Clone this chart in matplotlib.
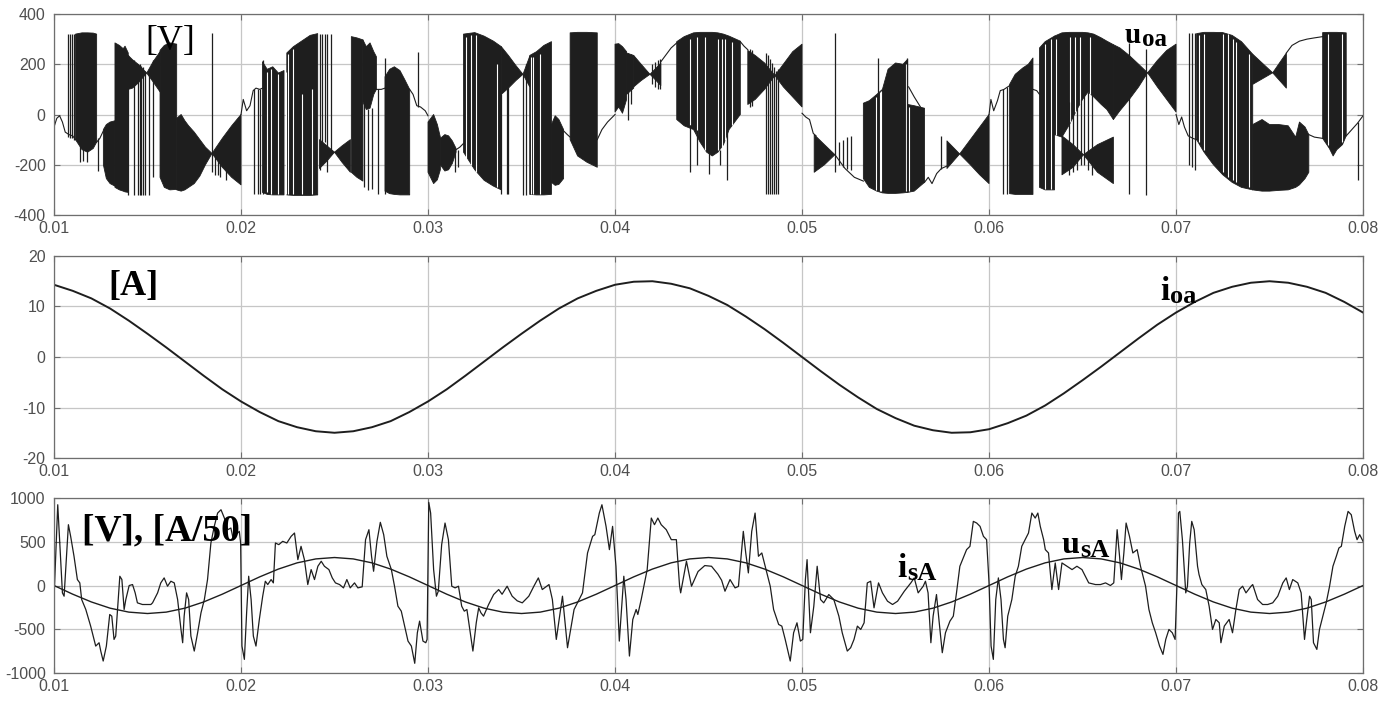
import numpy as np
import matplotlib
matplotlib.use("Agg")
import matplotlib.pyplot as plt

nan = np.nan
plt.rcParams['axes.unicode_minus'] = False

# ---------------- u_oa : switched output voltage (t in ms, V) ----------------
# dark switching bands, one segment per row, NaN separates segments
band_t = [11.15, 11.5, 11.8, 12.1, 12.28, nan,
          12.64, 12.8, 13.0, 13.26, nan,
          13.26, 13.5, 13.7, 13.8, 13.97, nan,
          13.97, 14.2, 14.5, 14.96, nan,
          14.96, 15.3, 15.67, nan,
          15.67, 15.9, 16.2, 16.56, nan,
          16.56, 16.8, 17.0, 17.2, 17.5, 17.8, 18.1, 18.45, nan,
          18.45, 19.0, 19.5, 20.0, nan,
          21.15, 21.4, 21.7, 22.0, 22.3, nan,
          22.45, 22.8, 23.3, 23.7, 24.1, nan,
          24.2, 24.6, 25.0, nan,
          25.0, 25.4, 25.85, nan,
          25.9, 26.2, 26.52, nan,
          26.52, 26.7, 26.9, 27.1, 27.24, nan,
          27.7, 27.95, 28.2, 28.5, 28.75, 29.02, nan,
          30.0, 30.3, 30.5, 30.66, nan,
          30.66, 30.9, 31.1, 31.3, 31.5, nan,
          31.9, 32.5, 33.0, 33.5, 33.92, nan,
          33.92, 34.3, 34.7, 35.08, nan,
          35.08, 35.44, nan,
          35.44, 35.8, 36.2, 36.6, nan,
          36.6, 36.8, 37.0, 37.25, nan,
          37.6, 38.0, 38.5, 39.05, nan,
          40.0, 40.2, 40.4, 40.62, nan,
          40.62, 41.0, nan,
          41.0, 41.4, 41.87, nan,
          41.87, 42.2, 42.45, nan,
          43.3, 43.7, 44.2, 44.55, 44.9, 45.2, 45.5, 45.8, 46.1, 46.4, 46.7, nan,
          47.1, 47.5, 48.0, 48.55, nan,
          48.55, 49.0, 49.5, 50.0, nan,
          50.65, 51.2, 51.76, nan,
          53.28, 53.6, 54.0, 54.3, 54.6, 55.0, 55.4, 55.65, nan,
          55.65, 56.0, 56.55, nan,
          57.75, 58.43, nan,
          58.43, 59.0, 59.5, 60.0, nan,
          61.1, 61.4, 61.8, 62.1, 62.35, nan,
          62.7, 63.0, 63.5, nan,
          63.5, 63.9, 64.3, 64.7, 65.0, 65.3, 65.6, 66.0, 66.3, 66.65, nan,
          63.9, 64.5, 65.05, nan,
          65.05, 65.8, 66.65, nan,
          66.65, 67.0, 67.5, 68.0, 68.48, nan,
          68.48, 69.0, 69.5, 70.0, nan,
          71.1, 71.5, 72.0, 72.5, 73.0, 73.5, 74.1, nan,
          74.1, 75.17, nan,
          75.17, 75.9, nan,
          74.1, 74.6, 75.0, 75.5, 76.0, 76.4, 76.6, 76.9, 77.1, nan,
          77.84, 78.2, 78.4, 78.6, 78.9, 79.1]
band_hi = [320, 325, 325, 324, 320, nan,
           -60, -40, -30, -25, nan,
           285, 275, 262, 272, 245, nan,
           235, 218, 200, 165, nan,
           165, 210, 250, nan,
           255, 275, 285, 280, nan,
           -15, 0, -25, -45, -70, -100, -130, -155, nan,
           -155, -95, -45, 0, nan,
           210, 180, 190, 165, 175, nan,
           245, 270, 295, 315, 322, nan,
           -100, -125, -150, nan,
           -150, -125, -100, nan,
           310, 305, 297, nan,
           297, 270, 285, 250, 230, nan,
           150, 180, 190, 175, 140, 100, nan,
           -30, 0, -40, -90, nan,
           -95, -80, -85, -105, -135, nan,
           320, 326, 312, 292, 270, nan,
           270, 235, 195, 160, nan,
           160, 232, nan,
           235, 250, 275, 290, nan,
           -40, -5, -20, -60, nan,
           325, 327, 327, 325, nan,
           280, 282, 270, 250, nan,
           245, 235, nan,
           235, 200, 160, nan,
           160, 185, 205, nan,
           290, 310, 325, 327, 327, 327, 325, 320, 312, 302, 292, nan,
           255, 235, 205, 155, nan,
           155, 200, 250, 280, nan,
           -80, -120, -160, nan,
           45, 55, 80, 100, 180, 205, 200, 220, nan,
           40, 35, 25, nan,
           -105, -157, nan,
           -157, -100, -50, 0, nan,
           120, 160, 185, 200, 225, nan,
           265, 290, 312, nan,
           312, 325, 327, 327, 327, 325, 320, 305, 292, 278, nan,
           -85, -120, -160, nan,
           -160, -120, -90, nan,
           278, 265, 235, 200, 166, nan,
           166, 215, 255, 280, nan,
           322, 327, 327, 326, 315, 290, 240, nan,
           240, 166, nan,
           166, 245, nan,
           -40, -20, -40, -40, -45, -90, -30, -50, -80, nan,
           326, 327, 327, 327, 326, 325]
band_lo = [-100, -140, -150, -135, -110, nan,
           -200, -255, -275, -285, nan,
           -290, -300, -305, -308, -310, nan,
           100, 105, 125, 165, nan,
           165, 130, 90, nan,
           -250, -290, -300, -298, nan,
           -300, -305, -300, -290, -275, -245, -200, -155, nan,
           -155, -210, -250, -280, nan,
           -310, -318, -320, -320, -320, nan,
           -320, -322, -322, -322, -320, nan,
           -215, -185, -150, nan,
           -150, -190, -230, nan,
           -230, -250, -265, nan,
           50, 20, 25, 80, 100, nan,
           -305, -315, -318, -320, -320, -320, nan,
           -230, -275, -260, -220, nan,
           -200, -225, -220, -195, -150, nan,
           -150, -220, -262, -285, -300, nan,
           80, 105, 135, 160, nan,
           160, 110, nan,
           -318, -320, -320, -318, nan,
           -270, -282, -278, -255, nan,
           -100, -165, -190, -210, nan,
           10, 30, 5, 60, nan,
           80, 105, nan,
           110, 135, 160, nan,
           160, 135, 115, nan,
           -20, -45, -60, -110, -150, -165, -150, -120, -60, -30, 0, nan,
           40, 60, 100, 155, nan,
           155, 110, 70, 30, nan,
           -230, -200, -160, nan,
           -255, -290, -305, -312, -314, -314, -312, -310, nan,
           -310, -305, -270, nan,
           -215, -157, nan,
           -157, -200, -240, -275, nan,
           -315, -318, -318, -318, -318, nan,
           -290, -300, -300, nan,
           -80, -90, -40, 20, 60, 90, 70, 40, 20, -20, nan,
           -240, -210, -160, nan,
           -160, -230, -275, nan,
           -20, 15, 60, 110, 166, nan,
           166, 110, 60, 10, nan,
           -100, -150, -200, -240, -270, -290, -300, nan,
           120, 166, nan,
           166, 105, nan,
           -300, -305, -305, -302, -300, -290, -280, -255, -230, nan,
           -95, -135, -165, -140, -120, -85]

# thin trace between the switching bands
line_t = [10.0, 10.15, 10.3, 10.45, 10.6, 10.8, 11.0, 11.15, nan,
          12.28, 12.45, 12.64, nan,
          20.0, 20.12, 20.3, 20.48, 20.65, 20.8, 21.0, 21.15, nan,
          27.24, 27.5, 27.7, nan,
          29.02, 29.2, 29.4, 29.6, 29.85, 30.0, nan,
          31.5, 31.7, 31.9, nan,
          37.25, 37.45, 37.6, nan,
          39.05, 39.3, 39.6, 39.8, 40.0, nan,
          42.45, 42.75, 43.0, 43.3, nan,
          46.7, 46.9, 47.1, nan,
          50.0, 50.2, 50.4, 50.6, 50.75, nan,
          51.76, 52.3, 52.8, 53.28, nan,
          55.7, 56.0, 56.5, nan,
          56.55, 56.75, 56.95, 57.2, 57.45, 57.75, nan,
          60.0, 60.1, 60.25, 60.45, 60.6, 60.8, 61.1, nan,
          62.35, 62.55, 62.7, nan,
          70.0, 70.15, 70.3, 70.45, 70.65, 70.9, 71.1, nan,
          75.9, 76.2, 76.6, 77.0, 77.4, 77.84, nan,
          77.1, 77.4, 77.84, nan,
          79.1, 79.4, 79.7, 80.0]
line_v = [-50, -15, -5, -30, -70, -80, -85, -100, nan,
          -110, -95, -65, nan,
          0, 60, 15, 35, 95, 105, 100, 105, nan,
          100, 100, 105, nan,
          100, 80, 35, 30, 15, -5, nan,
          -140, -130, -115, nan,
          -65, -80, -90, nan,
          -100, -60, -30, -15, 0, nan,
          210, 240, 265, 285, nan,
          290, 272, 258, nan,
          5, -10, -20, -75, -85, nan,
          -160, -215, -250, -265, nan,
          110, 70, 10, nan,
          -270, -250, -275, -235, -215, -205, nan,
          0, 60, 15, 55, 95, 100, 115, nan,
          100, 95, 80, nan,
          0, -40, -10, -50, -85, -95, -100, nan,
          245, 275, 292, 300, 305, 310, nan,
          -80, -90, -95, nan,
          -85, -60, -35, -5]

# isolated switching spikes
spike_t = [10.73, 10.85, 10.98, 11.07, 11.4, 11.55, 11.75, 12.37,
           13.97, 14.3, 14.5, 14.58, 14.65, 14.75, 14.85, 15.1, 15.3,
           18.43, 18.6, 18.75, 18.9, 19.2, 20.7, 20.9, 21.0, 21.15,
           24.2, 24.35, 24.5, 24.62, 24.8,
           26.6, 26.8, 27.0, 27.33, 27.68, 29.45, 31.45, 31.6,
           33.92, 34.2, 34.3, 35.1, 35.25,
           40.7, 40.85, 42.0, 42.15, 42.3, 42.4,
           44.0, 44.4, 45.0, 45.6, 46.0, 47.2, 47.3,
           48.1, 48.2, 48.3, 48.4, 48.5, 48.6, 48.7,
           51.76, 52.0, 52.2, 52.4, 52.6, 54.06, 55.6, 57.45, 60.75, 60.95,
           64.3, 64.5, 64.7, 64.9, 65.1, 65.3, 65.5,
           67.47, 68.4, 70.7, 70.85, 71.0, 79.75]
spike_lo = [-90, -95, -95, -100, -190, -185, -190, -225,
            -320, -320, -320, -320, -320, -320, -320, -320, -250,
            -230, -240, -240, -250, -260, -315, -315, -315, -318,
            -220, -200, -110, -230, -150,
            -290, -300, -295, -315, -315, 30, -230, -210,
            -315, -315, -315, -320, -320,
            -20, 40, 120, 110, 100, 100,
            -230, -200, -235, -200, -260, 30, 35,
            -315, -315, -315, -315, -315, -315, -315,
            -229, -200, -210, -215, -220, -300, -300, -215, -315, -315,
            -240, -230, -220, -200, -200, -220, -240,
            -315, -320, -200, -210, -220, -260]
spike_hi = [320, 320, 320, 320, -100, -110, -120, -95,
            235, 215, 200, 200, 195, 190, 175, 180, 215,
            326, -160, -140, -120, -90, 100, 100, 100, 215,
            322, 322, 322, 322, 322,
            50, 20, 25, 100, 225, 250, -140, -140,
            80, 110, 110, 160, 200,
            245, 240, 200, 210, 215, 220,
            -40, -60, -150, -140, -60, 260, 255,
            245, 235, 220, 205, 190, 175, 180,
            326, -110, -100, -90, -85, 225, 225, -84, 100, 110,
            50, 30, 40, 60, 80, 90, 80,
            285, 260, 324, 324, 324, -30]

# short pauses in switching (white streaks inside the dark bands)
gap_t = [21.37, 21.59, 22.0, 22.38, 22.53, 22.8, 23.24, 23.78,
         32.05, 32.3, 32.58, 33.7, 35.53, 35.61, 35.97,
         44.0, 44.37, 44.81, 45.53, 45.7, 45.88, 46.24,
         53.97, 54.15, 54.24, 55.58, 55.72,
         62.98, 63.33, 63.6, 64.31, 64.58, 64.85, 65.38,
         71.25, 71.5, 72.5, 72.76, 73.03, 73.2, 73.9, 78.1, 78.9]
gap_lo = [-310, -315, -318, -318, -318, -318, -318, -318,
          -180, -200, -230, -290, -315, -315, -315,
          -40, -80, -140, -140, -130, -100, -40,
          -300, -305, -305, -305, -305,
          -295, -295, -80, -30, 10, 40, 80,
          -110, -140, -230, -250, -260, -270, -290, -120, -110]
gap_hi = [170, 180, 160, 170, 240, 260, 80, 100,
          310, 315, 315, 200, 230, 230, 240,
          300, 310, 310, 300, 300, 300, 290,
          70, 90, 95, 200, 30,
          280, 300, 300, 310, 310, 310, 310,
          315, 320, 320, 320, 300, 290, 240, 320, 320]

# ---------------- i_oa : output current (t in ms, A) ----------------
ioa_t = list(range(10, 81))
ioa_v = [14.3, 13.1, 11.6, 9.6, 7.2, 4.6, 1.9, -0.9, -3.7, -6.4,
         -8.8, -10.9, -12.7, -13.9, -14.7, -15.0, -14.7, -13.9, -12.7, -10.9,
         -8.8, -6.4, -3.7, -0.9, 1.9, 4.6, 7.2, 9.6, 11.6, 13.1,
         14.3, 14.9, 15.0, 14.5, 13.6, 12.1, 10.3, 8.0, 5.5, 2.8,
         0.0, -2.8, -5.5, -8.0, -10.3, -12.1, -13.6, -14.5, -15.0, -14.9,
         -14.3, -13.1, -11.6, -9.6, -7.2, -4.6, -1.9, 0.9, 3.7, 6.4,
         8.8, 10.9, 12.7, 13.9, 14.7, 15.0, 14.7, 13.9, 12.7, 10.9, 8.8]

# ---------------- u_sA : supply voltage (t in ms, V) ----------------
usa_t = list(range(10, 81))
usa_v = [0, -99, -188, -259, -304, -320, -304, -259, -188, -99,
         0, 99, 188, 259, 304, 320, 304, 259, 188, 99,
         0, -99, -188, -259, -304, -320, -304, -259, -188, -99,
         0, 99, 188, 259, 304, 320, 304, 259, 188, 99,
         0, -99, -188, -259, -304, -320, -304, -259, -188, -99,
         0, 99, 188, 259, 304, 320, 304, 259, 188, 99,
         0, -99, -188, -259, -304, -320, -304, -259, -188, -99, 0]

# ---------------- i_sA : supply current, A/50 scale (t in ms) ----------------
isa_t = [10.0, 10.2, 10.45, 10.54, 10.77, 10.89, 11.07, 11.25, 11.38, 11.48,
         11.7, 11.96, 12.23, 12.41, 12.5, 12.63, 12.8, 12.98, 13.09, 13.21,
         13.3, 13.52, 13.63, 13.75, 13.84, 14.02, 14.2, 14.34, 14.46, 14.73,
         15.18, 15.27, 15.54, 15.71, 15.89, 16.07, 16.25, 16.43, 16.61, 16.79,
         16.88, 16.96, 17.09, 17.2, 17.32, 17.5, 17.68, 17.86, 18.04, 18.21,
         18.39, 18.57, 18.75, 18.93, 19.11, 19.29, 19.46, 19.59, 19.73, 19.91,
         19.98, 20.05, 20.18, 20.3, 20.41, 20.54, 20.66, 20.8, 20.98, 21.16,
         21.3, 21.43, 21.61, 21.73, 21.84, 22.02, 22.23, 22.45, 22.68, 22.86,
         23.04, 23.21, 23.39, 23.57, 23.75, 23.93, 24.11, 24.29, 24.46, 24.7,
         24.88, 25.05, 25.27, 25.48, 25.66, 25.84, 26.07, 26.25, 26.48, 26.66,
         26.84, 26.98, 27.09, 27.27, 27.45, 27.63, 27.8, 28.04, 28.21, 28.39,
         28.57, 28.75, 28.93, 29.11, 29.29, 29.43, 29.55, 29.73, 29.88, 29.95,
         30.04, 30.14, 30.3, 30.45, 30.55, 30.73, 30.91, 31.09, 31.27, 31.45,
         31.63, 31.8, 31.94, 32.08, 32.4, 32.58, 32.71, 32.83, 32.97, 33.24,
         33.51, 33.78, 33.96, 34.23, 34.5, 34.77, 35.04, 35.39, 35.66, 35.9,
         36.11, 36.47, 36.65, 36.86, 37.19, 37.46, 37.81, 37.99, 38.26, 38.53,
         38.8, 38.92, 39.16, 39.3, 39.52, 39.7, 39.87, 40.05, 40.23, 40.36,
         40.47, 40.59, 40.77, 40.95, 41.13, 41.22, 41.4, 41.58, 41.72, 41.94,
         42.11, 42.29, 42.47, 42.74, 43.01, 43.28, 43.45, 43.51, 43.82, 44.09,
         44.44, 44.8, 45.16, 45.5, 45.7, 45.88, 46.15, 46.42, 46.6, 46.86,
         46.99, 47.13, 47.31, 47.49, 47.67, 47.85, 48.03, 48.3, 48.48, 48.75,
         48.92, 49.1, 49.37, 49.55, 49.73, 49.91, 50.04, 50.18, 50.27, 50.45,
         50.63, 50.81, 50.99, 51.16, 51.43, 51.7, 51.97, 52.15, 52.42, 52.6,
         52.78, 52.96, 53.14, 53.32, 53.49, 53.67, 53.85, 54.09, 54.3, 54.57,
         54.84, 55.11, 55.47, 55.82, 56.0, 56.21, 56.48, 56.6, 56.74, 56.89,
         57.01, 57.19, 57.32, 57.5, 57.67, 57.91, 58.09, 58.26, 58.44, 58.62,
         58.8, 58.98, 59.16, 59.34, 59.52, 59.7, 59.87, 60.0, 60.11, 60.23,
         60.36, 60.5, 60.64, 60.77, 60.86, 61.0, 61.22, 61.4, 61.57, 61.75,
         61.93, 62.11, 62.29, 62.47, 62.61, 62.74, 62.92, 63.01, 63.18, 63.36,
         63.54, 63.72, 63.9, 64.17, 64.44, 64.7, 64.97, 65.33, 65.69, 65.96,
         66.23, 66.49, 66.67, 66.85, 66.98, 67.08, 67.21, 67.33, 67.51, 67.69,
         67.92, 68.1, 68.37, 68.55, 68.73, 68.91, 69.12, 69.3, 69.45, 69.62,
         69.8, 69.95, 70.04, 70.13, 70.2, 70.34, 70.52, 70.61, 70.73, 70.84,
         70.97, 71.15, 71.23, 71.38, 71.59, 71.77, 71.95, 72.13, 72.31, 72.4,
         72.58, 72.84, 73.02, 73.2, 73.38, 73.56, 73.74, 74.01, 74.1, 74.36,
         74.63, 74.9, 75.17, 75.44, 75.71, 75.89, 76.06, 76.24, 76.51, 76.69,
         76.87, 76.99, 77.14, 77.23, 77.35, 77.53, 77.67, 77.85, 78.03, 78.21,
         78.39, 78.57, 78.71, 78.84, 79.02, 79.2, 79.37, 79.55, 79.68, 79.82,
         80.0]
isa_v = [-150, 923, -84, -122, 695, 562, 334, 68, 30, -160,
         -274, -464, -692, -654, -749, -863, -692, -331, -350, -616,
         -578, 106, 68, -274, -160, 0, 11, -84, -198, -217,
         -217, -198, -84, 30, 87, -8, 49, 30, -160, -502,
         -654, -350, -84, -160, -578, -749, -540, -312, -160, 68,
         486, 676, 828, 866, 771, 638, 657, 524, 581, 619,
         486, -692, -844, -312, 106, -160, -578, -692, -388, -122,
         49, 11, 68, 30, 486, 467, 505, 486, 562, 600,
         296, 448, 296, 11, 182, 68, 220, 277, 220, 182,
         87, 30, 11, -27, 68, -27, 30, -27, -15, 524,
         638, 334, 163, 505, 722, 581, 334, 182, -8, -236,
         -293, -464, -635, -692, -889, -540, -407, -635, -654, -616,
         950, 828, 182, -122, -65, 467, 714, 524, -8, -27,
         -8, -236, -293, -274, -749, -426, -255, -312, -350, -217,
         -103, -46, -100, -8, -122, -175, -198, -122, -8, 87,
         -46, 11, -160, -616, -122, -711, -274, -198, -84, 372,
         562, 581, 828, 923, 676, 410, 676, 220, -635, -236,
         106, -160, -806, -388, -274, -331, -160, 30, 182, 771,
         695, 771, 695, 638, 524, 524, 0, -84, 277, -8,
         160, 228, 220, 130, 60, -65, 68, -27, -10, 619,
         372, 144, 619, 828, 334, 372, 220, -8, -274, -445,
         -464, -616, -863, -540, -426, -635, -616, 68, 296, -540,
         -236, 220, -160, -198, -103, -160, -350, -540, -749, -711,
         -616, -464, -502, -426, 30, 49, -255, 30, -84, -179,
         -217, -179, -65, 30, 87, -84, -8, 49, -84, -654,
         -350, -103, -388, -768, -540, -407, -350, -84, 220, 315,
         410, 448, 733, 714, 676, 562, 524, 30, -692, -844,
         -160, 87, -160, -616, -711, -350, -160, 106, 220, 448,
         524, 600, 828, 771, 828, 676, 524, 410, 372, -46,
         258, -46, 258, 220, 182, 220, 182, 30, 11, 11,
         30, 0, 30, 638, 334, 68, 372, 714, 562, 372,
         410, 220, -8, -274, -426, -540, -692, -787, -616, -502,
         -540, -616, -46, 828, 847, 524, -84, -8, 486, 733,
         638, 220, 125, 11, -46, -236, -502, -388, -426, -654,
         -464, -388, -540, -274, -46, -8, -84, -8, 11, -160,
         -217, -217, -198, -122, 30, 87, -46, 68, 30, -84,
         -616, -388, -122, -160, -654, -730, -502, -350, -198, -8,
         220, 334, 429, 448, 676, 847, 809, 619, 524, 581,
         505]

xticks = [0.01, 0.02, 0.03, 0.04, 0.05, 0.06, 0.07, 0.08]
xticklabels = ['0.01', '0.02', '0.03', '0.04', '0.05', '0.06', '0.07', '0.08']

ms = lambda a: np.asarray(a, dtype=float) / 1000.0
ink = '#1e1e1e'

fig = plt.figure(figsize=(13.99, 7.04), dpi=100)
ax1 = fig.add_axes([0.0386, 0.6946, 0.9357, 0.2855])
ax2 = fig.add_axes([0.0386, 0.3494, 0.9357, 0.2870])
ax3 = fig.add_axes([0.0386, 0.0440, 0.9357, 0.2486])

def style(ax, ylim, yt):
    ax.set_xlim(0.01, 0.08)
    ax.set_ylim(*ylim)
    ax.set_xticks(xticks)
    ax.set_xticklabels(xticklabels, family='Liberation Sans')
    ax.set_yticks(yt)
    ax.set_yticklabels([str(v) for v in yt], family='Liberation Sans')
    ax.grid(True, color='#c6c6c6', lw=0.9)
    ax.set_axisbelow(True)
    ax.tick_params(direction='in', length=4, width=0.8, color='#6e6e6e',
                   labelsize=11.5, labelcolor='#4f4f4f', top=True, right=True)
    ax.tick_params(axis='x', pad=4)
    ax.tick_params(axis='y', pad=6)
    for s in ax.spines.values():
        s.set_color('#6e6e6e')
        s.set_linewidth(0.9)

def sub_label(ax, x, y, main, sub, w, size=22, subsize=18, dy=-2):
    ax.text(x, y, main, fontsize=size, fontweight='bold', family='Liberation Serif',
            va='baseline', ha='left', zorder=5)
    ax.annotate(sub, xy=(x, y), xytext=(w * size + 0.5, dy), textcoords='offset points',
                fontsize=subsize, fontweight='bold', family='Liberation Serif',
                va='baseline', ha='left', zorder=5)

# top: u_oa
style(ax1, (-400, 400), [-400, -200, 0, 200, 400])
ax1.fill_between(ms(band_t), band_lo, band_hi, color=ink, lw=0.6, edgecolor=ink)
ax1.vlines(ms(gap_t), gap_lo, gap_hi, color='white', lw=0.8)
ax1.plot(ms(line_t), line_v, color=ink, lw=0.8)
ax1.vlines(ms(spike_t), spike_lo, spike_hi, color=ink, lw=0.9)
ax1.text(0.01487, 257, '[V]', fontsize=26, family='Liberation Serif', va='baseline', ha='left')
sub_label(ax1, 0.06727, 285, 'u', 'oa', 0.556, size=21, subsize=18)

# middle: i_oa
style(ax2, (-20, 20), [-20, -10, 0, 10, 20])
ax2.plot(ms(ioa_t), ioa_v, color=ink, lw=1.4)
ax2.text(0.01289, 12.3, '[A]', fontsize=26, fontweight='bold', family='Liberation Serif',
         va='baseline', ha='left')
sub_label(ax2, 0.06914, 11.3, 'i', 'oa', 0.278, size=24, subsize=19)

# bottom: u_sA and i_sA
style(ax3, (-1000, 1000), [-1000, -500, 0, 500, 1000])
ax3.plot(ms(usa_t), usa_v, color=ink, lw=1.0)
ax3.plot(ms(isa_t), isa_v, color=ink, lw=0.9)
ax3.text(0.0115, 520, '[V], [A/50]', fontsize=27, fontweight='bold', family='Liberation Serif',
         va='baseline', ha='left')
sub_label(ax3, 0.05508, 97, 'i', 'sA', 0.278, size=24, subsize=19)
sub_label(ax3, 0.0639, 371, 'u', 'sA', 0.556, size=23, subsize=19, dy=-3)

fig.savefig('out.png', dpi=100)
